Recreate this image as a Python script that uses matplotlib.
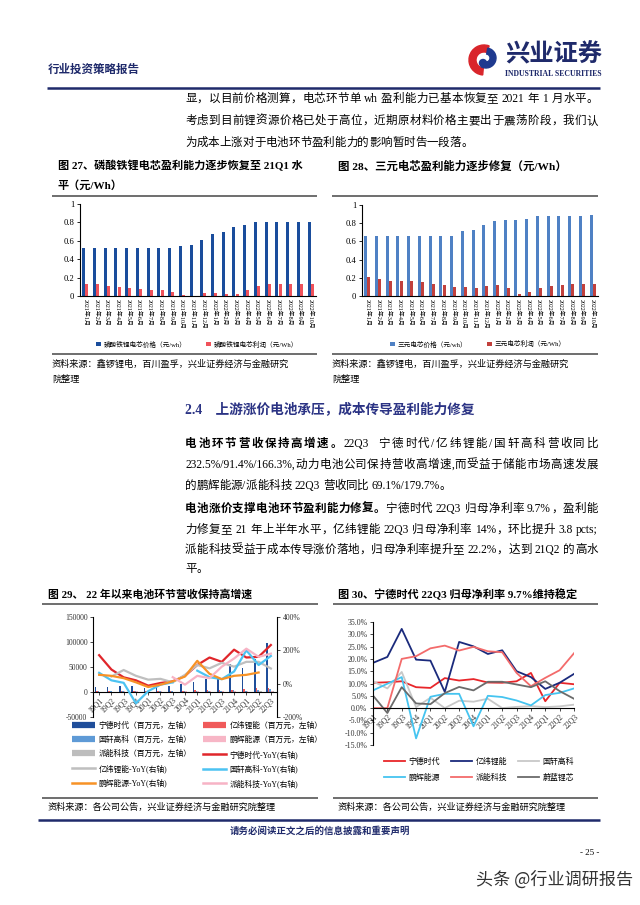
import re
import matplotlib
matplotlib.use('Agg')
import matplotlib.pyplot as plt
import numpy as np
from matplotlib.patches import Wedge, Circle
from matplotlib.lines import Line2D

plt.rcParams['font.family'] = ['Liberation Serif', 'Noto Sans CJK SC', 'DejaVu Sans']
plt.rcParams['axes.unicode_minus'] = False

# ---------------- data ----------------
months = ['2021年1月', '2021年2月', '2021年3月', '2021年4月', '2021年5月', '2021年6月',
          '2021年7月', '2021年8月', '2021年9月', '2021年10月', '2021年11月', '2021年12月',
          '2022年1月', '2022年2月', '2022年3月', '2022年4月', '2022年5月', '2022年6月',
          '2022年7月', '2022年8月', '2022年9月', '2022年10月']
lfp_price = [0.52, 0.52, 0.52, 0.52, 0.52, 0.52, 0.52, 0.52, 0.52, 0.54, 0.55, 0.61,
             0.67, 0.70, 0.745, 0.775, 0.80, 0.80, 0.80, 0.80, 0.80, 0.805]
lfp_profit = [0.135, 0.125, 0.105, 0.095, 0.085, 0.08, 0.07, 0.06, 0.04, 0.015, 0.0, 0.035,
              0.035, 0.025, 0.02, 0.065, 0.11, 0.125, 0.13, 0.135, 0.13, 0.13]
ncm_price = [0.66, 0.66, 0.66, 0.66, 0.66, 0.66, 0.66, 0.66, 0.66, 0.71, 0.73, 0.775,
             0.82, 0.84, 0.84, 0.85, 0.875, 0.875, 0.875, 0.875, 0.875, 0.885]
ncm_profit = [0.205, 0.185, 0.16, 0.165, 0.165, 0.155, 0.135, 0.12, 0.095, 0.095, 0.09, 0.115,
              0.12, 0.09, 0.025, 0.04, 0.09, 0.11, 0.125, 0.135, 0.13, 0.13]

quarters = ['19Q1', '19Q2', '19Q3', '19Q4', '20Q1', '20Q2', '20Q3', '20Q4',
            '21Q1', '21Q2', '21Q3', '21Q4', '22Q1', '22Q2', '22Q3']
rev_catl = [10000, 10300, 12700, 12900, 8500, 10300, 12700, 16500, 19200, 25900, 29000, 56300, 48700, 66000, 97400]
rev_eve = [1300, 1500, 1800, 1800, 1500, 1700, 2200, 2600, 3700, 3500, 4900, 4600, 6000, 8000, 9000]
rev_gotion = [1500, 1800, 1700, 1800, 1100, 1600, 1800, 2100, 1900, 2300, 2500, 3600, 3000, 4200, 5100]
rev_penghui = [800, 1000, 1100, 1100, 700, 1100, 1000, 1200, 1100, 1400, 1400, 1800, 1800, 2300, 2600]
rev_pylon = [300, 300, 400, 300, 300, 500, 500, 300, 400, 500, 600, 600, 900, 1800, 2600]
yoy_catl = [171, 85, 38, 20, -12, 4, 14, 47, 112, 157, 131, 204, 157, 161, 232]
yoy_eve = [np.nan, 43, 82, 47, 24, 29, 8, 53, 112, 92, 125, 102, 131, 131, 91]
yoy_gotion = [65, 20, 5, -118, -45, -6, 8, np.nan, 78, 39, 27, 73, 200, 112, 166]
yoy_penghui = [53, 47, 33, 8, -20, -6, 14, 43, 137, 59, 27, 47, 53, 67, np.nan]
yoy_pylon = [np.nan, np.nan, np.nan, np.nan, np.nan, np.nan, 39, -6, 47, 33, 102, 151, 210, 161, 180]

m_catl = [10.3, 10.5, 10.9, 8.5, 8.2, 12.2, 11.2, 11.8, 10.4, 10.3, 10.9, 14.3, 2.8, 10.3, 9.7]
m_eve = [18.4, 20.8, 32.2, 19.7, 19.3, 6.6, 26.9, 25.1, 22.0, 23.5, 15.0, 12.6, 7.8, 10.3, 13.9]
m_gotion = [10.9, 8.0, 14.7, 0.4, 4.2, 0.0, 3.0, 2.6, 3.8, 0.0, 0.5, 0.8, 0.4, 0.7, 1.4]
m_penghui = [7.2, 9.9, 12.6, -12.3, 4.6, 5.8, 5.8, -7.4, 5.0, 4.5, 3.1, 1.1, 5.3, 6.2, 8.0]
m_pylon = [0.0, 0.0, 20.0, 21.1, 24.3, 25.4, 23.4, 24.9, 23.1, 22.7, 14.3, 8.9, 12.3, 15.4, 22.3]
m_weilan = [5.1, -2.0, 8.5, 1.9, 1.6, 6.1, 8.6, 7.2, 10.7, 10.7, 9.6, 8.5, 10.9, 6.9, 3.8]

# ---------------- figure ----------------
W, H = 640, 905
fig = plt.figure(figsize=(6.4, 9.05), dpi=100)
fig.patch.set_facecolor('white')

pg = fig.add_axes([0, 0, 1, 1])
pg.set_xlim(0, W)
pg.set_ylim(H, 0)
pg.axis('off')

NAVY = '#1f2a6b'
renderer = fig.canvas.get_renderer()


def ax_at(x0, y0, x1, y1):
    a = fig.add_axes([x0 / W, 1 - y1 / H, (x1 - x0) / W, (y1 - y0) / H])
    a.patch.set_alpha(0)
    return a


def hline(x0, x1, y, color='#555555', lw=1.2):
    pg.plot([x0, x1], [y, y], color=color, lw=lw, solid_capstyle='butt')


TOK = re.compile(r'[A-Za-z0-9.%/,;:()\-]+|\s+|.')


def line(x0, y, parts, size=8.3, x1=None):
    """Draw a line of mixed bold/normal text; justify to x1 if given."""
    items = []
    for txt, bold in parts:
        for tok in TOK.findall(txt):
            if tok.isspace():
                t = pg.text(0, y, 'a' * 0 + '\u00a0' * len(tok), fontsize=size, va='center')
            else:
                t = pg.text(0, y, tok, fontsize=size, va='center',
                            fontweight='bold' if bold else 'normal')
            items.append(t)
    widths = [t.get_window_extent(renderer=renderer).width for t in items]
    gap = 0.0
    if x1 is not None and len(items) > 1:
        gap = (x1 - x0 - sum(widths)) / (len(items) - 1)
    x = x0
    for t, w in zip(items, widths):
        t.set_x(x)
        x += w + gap


# header
pg.text(48, 70, '行业投资策略报告', fontsize=8.3, fontweight='bold', color=NAVY, va='center')
pg.add_patch(Wedge((484, 60), 15, 95, 290, width=7, color='#d9252b'))
pg.add_patch(Wedge((486, 58), 10, -80, 120, width=6, color='#1f3a8f'))
pg.add_patch(Circle((483, 63), 3.5, color='#1f3a8f'))
pg.text(505, 55, '兴业证券', fontsize=17.5, fontweight='bold', color=NAVY, va='center')
pg.text(505, 74, 'INDUSTRIAL SECURITIES', fontsize=5.6, fontweight='bold', color=NAVY, va='center')
hline(47, 600, 88, color=NAVY, lw=1.8)

body = 8.3
line(185, 99, [('显，以目前价格测算，电芯环节单 wh 盈利能力已基本恢复至 2021 年 1 月水平。', False)], body, 598)
line(185, 121, [('考虑到目前锂资源价格已处于高位，近期原材料价格主要出于震荡阶段，我们认', False)], body, 598)
line(185, 143, [('为成本上涨对于电池环节盈利能力的影响暂时告一段落。', False)], body)

# fig 27/28 titles
pg.text(58, 166, '图 27、磷酸铁锂电芯盈利能力逐步恢复至 21Q1 水', fontsize=8, fontweight='bold', va='center')
pg.text(58, 185, '平（元/Wh）', fontsize=8, fontweight='bold', va='center')
pg.text(338, 166, '图 28、三元电芯盈利能力逐步修复（元/Wh）', fontsize=8.2, fontweight='bold', va='center')
hline(52, 317, 196)
hline(332, 598, 196)
hline(52, 317, 354)
hline(332, 598, 354)
pg.text(52, 364, '资料来源：鑫锣锂电，百川盈孚，兴业证券经济与金融研究', fontsize=6.6, va='center')
pg.text(52, 379, '院整理', fontsize=6.6, va='center')
pg.text(332, 364, '资料来源：鑫锣锂电，百川盈孚，兴业证券经济与金融研究', fontsize=6.6, va='center')
pg.text(332, 379, '院整理', fontsize=6.6, va='center')


def bar_chart(box, price, profit, c1, c2, l1, l2, leg_x):
    ax = ax_at(*box)
    x = np.arange(len(months))
    ax.bar(x - 0.15, price, width=0.28, color=c1, label=l1)
    ax.bar(x + 0.15, profit, width=0.28, color=c2, label=l2)
    ax.set_xlim(-0.5, len(months) - 0.5)
    ax.set_ylim(0, 1)
    ax.set_yticks([0, 0.2, 0.4, 0.6, 0.8, 1.0])
    ax.set_yticklabels(['0', '0.2', '0.4', '0.6', '0.8', '1'], fontsize=6.2)
    ax.set_xticks(x)
    ax.set_xticklabels(months, rotation=-90, fontsize=4.3, va='top', ha='center')
    for s in ['top', 'right']:
        ax.spines[s].set_visible(False)
    ax.spines['left'].set_linewidth(0.8)
    ax.spines['bottom'].set_linewidth(0.8)
    ax.tick_params(axis='y', length=2, width=0.6, pad=2, direction='out')
    ax.tick_params(axis='x', length=0, pad=2)
    ax.legend(loc='center left', bbox_to_anchor=(leg_x / W, 1 - 344 / H),
              bbox_transform=fig.transFigure, ncol=2, frameon=False, fontsize=4.8,
              handlelength=0.7, handleheight=0.7, handletextpad=0.4, columnspacing=3.0,
              borderaxespad=0, borderpad=0)
    return ax


bar_chart((80, 204, 316, 296), lfp_price, lfp_profit, '#1a4d9c', '#f0525a',
          '磷酸铁锂电芯价格（元/wh）', '磷酸铁锂电芯利润（元/Wh）', 96)
bar_chart((362, 205, 598, 296), ncm_price, ncm_profit, '#4f81c4', '#c2403c',
          '三元电芯价格（元/wh）', '三元电芯利润（元/Wh）', 390)

# section
pg.text(185, 410, '2.4    上游涨价电池承压，成本传导盈利能力修复', fontsize=9.8, fontweight='bold',
        color='#2b3384', va='center')
line(185, 444, [('电池环节营收保持高增速。', True), ('22Q3  宁德时代/亿纬锂能/国轩高科营收同比', False)], body, 598)
line(185, 465, [('232.5%/91.4%/166.3%,动力电池公司保持营收高增速,而受益于储能市场高速发展', False)], body, 598)
line(185, 486, [('的鹏辉能源/派能科技 22Q3 营收同比 69.1%/179.7%。', False)], body)
line(185, 509, [('电池涨价支撑电池环节盈利能力修复。', True), ('宁德时代 22Q3 归母净利率 9.7%，盈利能', False)], body, 598)
line(185, 530, [('力修复至 21 年上半年水平，亿纬锂能 22Q3 归母净利率 14%，环比提升 3.8 pcts;', False)], body, 598)
line(185, 550, [('派能科技受益于成本传导涨价落地，归母净利率提升至 22.2%，达到 21Q2 的高水', False)], body, 598)
line(185, 569, [('平。', False)], body)

# fig 29/30 titles
pg.text(48, 594, '图 29、 22 年以来电池环节营收保持高增速', fontsize=7.8, fontweight='bold', va='center')
pg.text(338, 594, '图 30、宁德时代 22Q3 归母净利率 9.7%维持稳定', fontsize=8, fontweight='bold', va='center')
hline(42, 318, 604)
hline(333, 598, 604)
hline(42, 318, 798)
hline(333, 598, 798)
pg.text(48, 807, '资料来源：各公司公告，兴业证券经济与金融研究院整理', fontsize=6.6, va='center')
pg.text(338, 807, '资料来源：各公司公告，兴业证券经济与金融研究院整理', fontsize=6.6, va='center')

# ---- fig 29 ----
ax = ax_at(93, 617, 277, 717)
xq = np.arange(len(quarters))
bw = 0.13
bars = [(rev_catl, '#1f4e9a', '宁德时代（百万元，左轴）'),
        (rev_eve, '#f05a5a', '亿纬锂能（百万元，左轴）'),
        (rev_gotion, '#5e9ad6', '国轩高科（百万元，左轴）'),
        (rev_penghui, '#f7b6c6', '鹏辉能源（百万元，左轴）'),
        (rev_pylon, '#bdbdbd', '派能科技（百万元，左轴）')]
handles = []
for k, (vals, c, lab) in enumerate(bars):
    ax.bar(xq + (k - 2) * bw - 0.05, vals, width=bw, color=c)
    handles.append((Line2D([], [], color=c, lw=4.5, solid_capstyle='butt'), lab))
ax.set_xlim(-0.5, len(quarters) - 0.5)
ax.set_ylim(-50000, 150000)
ax.set_yticks([-50000, 0, 50000, 100000, 150000])
ax.set_yticklabels(['-50000', '0', '50000', '100000', '150000'], fontsize=5.5, color='#333333')
ax.spines['bottom'].set_position(('data', 0))
ax.spines['top'].set_visible(False)
ax.spines['right'].set_visible(False)
for s in ['left', 'bottom']:
    ax.spines[s].set_linewidth(0.8)
ax.set_xticks(xq)
ax.set_xticklabels(quarters, rotation=45, ha='right', va='top', rotation_mode='anchor',
                   fontsize=5.5, color='#333333')
ax.tick_params(axis='x', length=2, width=0.5, pad=1)
ax.tick_params(axis='y', length=2, width=0.5, pad=2)

ax2 = ax.twinx()
ax2.patch.set_alpha(0)
lines = [(yoy_catl, '#e0262b', '宁德时代-YoY(右轴)'),
         (yoy_eve, '#bfbfbf', '亿纬锂能-YoY(右轴)'),
         (yoy_gotion, '#4cc3f2', '国轩高科-YoY(右轴)'),
         (yoy_penghui, '#f79226', '鹏辉能源-YoY(右轴)'),
         (yoy_pylon, '#f7b3c5', '派能科技-YoY(右轴)')]
for vals, c, lab in lines:
    ax2.plot(xq, vals, color=c, lw=1.6)
    handles.append((Line2D([], [], color=c, lw=1.8), lab))
ax2.set_ylim(-200, 400)
ax2.set_yticks([-200, 0, 200, 400])
ax2.set_yticklabels(['-200%', '0%', '200%', '400%'], fontsize=5.5, color='#333333')
ax2.spines['top'].set_visible(False)
ax2.spines['left'].set_visible(False)
ax2.spines['bottom'].set_visible(False)
ax2.spines['right'].set_linewidth(0.8)
ax2.tick_params(axis='y', length=2, width=0.5, pad=2)

order = [0, 2, 4, 6, 8, 1, 3, 5, 7, 9]
fig.legend([handles[i][0] for i in order], [handles[i][1] for i in order],
           loc='upper left', bbox_to_anchor=(72 / W, 1 - 722 / H), ncol=2,
           frameon=False, fontsize=5.6, handlelength=3.0, handletextpad=0.4,
           columnspacing=1.5, labelspacing=0.75, borderaxespad=0, borderpad=0)

# ---- fig 30 ----
ax3 = ax_at(373, 622, 574, 745)
series30 = [(m_catl, '#e8262a', '宁德时代'),
            (m_eve, '#1a2a7c', '亿纬锂能'),
            (m_gotion, '#c8c8c8', '国轩高科'),
            (m_penghui, '#45c4f0', '鹏辉能源'),
            (m_pylon, '#f36b6b', '派能科技'),
            (m_weilan, '#6b6b6b', '蔚蓝锂芯')]
h30 = []
for vals, c, lab in series30:
    ln, = ax3.plot(xq, vals, color=c, lw=1.3)
    h30.append((ln, lab))
ax3.set_xlim(0, len(quarters) - 1)
ax3.set_ylim(-15, 35)
yt = [-15, -10, -5, 0, 5, 10, 15, 20, 25, 30, 35]
ax3.set_yticks(yt)
ax3.set_yticklabels([f'{v:.1f}%' for v in yt], fontsize=5.7, color='#333333')
ax3.spines['bottom'].set_position(('data', 0))
ax3.spines['top'].set_visible(False)
ax3.spines['right'].set_visible(False)
for s in ['left', 'bottom']:
    ax3.spines[s].set_linewidth(0.8)
ax3.set_xticks(xq)
ax3.set_xticklabels(quarters, rotation=45, ha='right', va='top', rotation_mode='anchor',
                    fontsize=5.5, color='#333333')
ax3.tick_params(axis='x', length=2, width=0.5, pad=1)
ax3.tick_params(axis='y', length=2, width=0.5, pad=2)
order30 = [0, 3, 1, 4, 2, 5]
fig.legend([h30[i][0] for i in order30], [h30[i][1] for i in order30],
           loc='upper left', bbox_to_anchor=(384 / W, 1 - 758 / H),
           ncol=3, frameon=False, fontsize=5.7, handlelength=2.6, handletextpad=0.5,
           columnspacing=1.4, labelspacing=0.95, borderaxespad=0, borderpad=0)

# footer
hline(38, 600, 820, color=NAVY, lw=1.8)
pg.text(320, 831, '请务必阅读正文之后的信息披露和重要声明', fontsize=6.8, fontweight='bold',
        color=NAVY, ha='center', va='center')
pg.text(590, 853, '- 25 -', fontsize=6.5, ha='center', va='center')
pg.text(633, 880, '头条 @行业调研报告', fontsize=12.3, ha='right', va='center', color='#333333',
        family=['Noto Sans CJK SC', 'DejaVu Sans'])

fig.savefig('out.png', dpi=100, facecolor='white')
